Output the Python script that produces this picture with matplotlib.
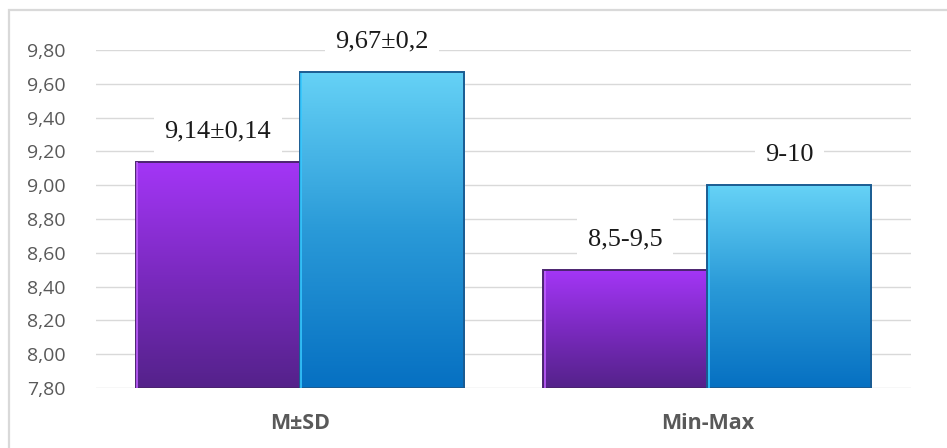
import numpy as np
import matplotlib.pyplot as plt
from matplotlib.colors import LinearSegmentedColormap
from matplotlib.patches import Rectangle

# data
categories = ["M\u00b1SD", "Min-Max"]
purple_vals = [9.14, 8.5]
blue_vals = [9.67, 9.0]
purple_labels = ["9,14\u00b10,14", "8,5-9,5"]
blue_labels = ["9,67\u00b10,2", "9-10"]
yticks = [7.8, 8.0, 8.2, 8.4, 8.6, 8.8, 9.0, 9.2, 9.4, 9.6, 9.8]

W, H = 947, 448
fig = plt.figure(figsize=(W / 100, H / 100), dpi=100)
ax = fig.add_axes([96 / W, 60 / H, (911 - 96) / W, (388 - 50) / H])

ymin, ymax = 7.8, 9.8
ax.set_xlim(-0.5, 1.5)
ax.set_ylim(ymin, ymax)

purple_cmap = LinearSegmentedColormap.from_list("p", ["#54228A", "#7B2AC0", "#A436F7"])
blue_cmap = LinearSegmentedColormap.from_list("b", ["#0670C2", "#2A9AD8", "#66D2F6"])

bw = 164 / 407
x = np.arange(len(categories))


def gradient_bar(x0, top, cmap, edge, highlight):
    rect = Rectangle((x0, ymin), bw, top - ymin, facecolor="none",
                     edgecolor=edge, lw=1.4, zorder=4)
    ax.add_patch(rect)
    grad = np.linspace(0, 1, 256).reshape(-1, 1)
    im = ax.imshow(grad, cmap=cmap, origin="lower", aspect="auto",
                   extent=(x0, x0 + bw, ymin, top), zorder=3)
    im.set_clip_path(rect)
    # thin light strip on the left edge
    ax.plot([x0 + 0.004, x0 + 0.004], [ymin, top - 0.005], color=highlight,
            lw=1.2, zorder=5, solid_capstyle="butt")


for i in range(len(categories)):
    gradient_bar(x[i] - bw, purple_vals[i], purple_cmap, "#4B2470", "#C060FF")
    gradient_bar(x[i], blue_vals[i], blue_cmap, "#1B5C92", "#35C8FF")

# value labels above the bars
for i in range(len(categories)):
    for xc, v, lab in [(x[i] - bw / 2, purple_vals[i], purple_labels[i]),
                       (x[i] + bw / 2, blue_vals[i], blue_labels[i])]:
        ax.annotate(lab, (xc, v), xytext=(0, 14), textcoords="offset points",
                    ha="center", va="bottom", fontsize=19,
                    family="Liberation Serif", color="#1a1a1a", zorder=6,
                    annotation_clip=False,
                    bbox=dict(boxstyle="square,pad=0.4", fc="white", ec="none"))

ax.set_yticks(yticks)
ax.set_yticklabels([f"{t:.2f}".replace(".", ",") for t in yticks],
                   fontsize=14, family="Open Sans", color="#595959")
ax.set_xticks(x)
ax.set_xticklabels(categories, fontsize=15.5, family="Open Sans",
                   fontweight="bold", color="#595959")
ax.tick_params(axis="y", length=0, pad=22)
ax.tick_params(axis="x", length=0, pad=18)
ax.yaxis.grid(True, color="#D9D9D9", lw=1)
ax.set_axisbelow(True)
for s in ax.spines.values():
    s.set_visible(False)

# chart area border (top and left edges)
fig.add_artist(Rectangle((9 / W, -0.2), 1.2, (H - 10) / H + 0.2,
                         transform=fig.transFigure, fill=False,
                         ec="#D9D9D9", lw=1.6))

fig.savefig("out.png", dpi=100)
